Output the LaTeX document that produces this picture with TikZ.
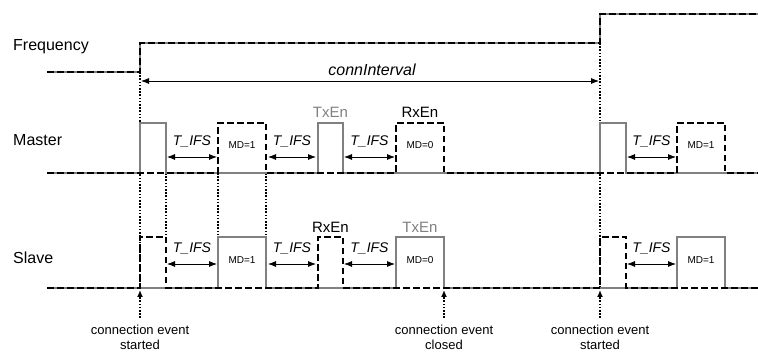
\documentclass[tikz,border=0pt]{standalone}
\usepackage{fontspec}
\setmainfont{Liberation Sans}
\usetikzlibrary{arrows.meta}
\definecolor{sig}{RGB}{128,128,128}
\begin{document}
\begin{tikzpicture}[x=1pt,y=-1pt,
  dsh/.style={line width=2.4pt, dash pattern=on 6.5pt off 3.5pt},
  grl/.style={sig, line width=2pt},
  dotl/.style={line width=1.6pt, dash pattern=on 1.6pt off 1.6pt},
  ifs/.style={line width=0.8pt, {Latex[length=8pt,width=6pt]}-{Latex[length=8pt,width=6pt]}},
  lbl/.style={font=\fontsize{16}{19}\selectfont, inner sep=0pt, anchor=west},
  ifst/.style={font=\fontsize{14}{16}\selectfont\itshape, inner sep=0pt},
  en/.style={font=\fontsize{15}{17}\selectfont, inner sep=0pt},
  md/.style={font=\fontsize{10}{12}\selectfont, inner sep=0pt},
  ev/.style={font=\fontsize{13}{15}\selectfont, inner sep=0pt, align=center},
  evarr/.style={line width=1.6pt, dash pattern=on 1.6pt off 1.6pt, -{Latex[length=7pt,width=6pt]}}
]
\useasboundingbox (0,0) rectangle (758,352);

% labels
\node[lbl] (freq) at (13,47) {Frequency};
\node[lbl] (mas) at (13,140) {Master};
\node[lbl] (sla) at (13,258) {Slave};

% dotted guides
\draw[dotl] (140,72) -- (140,288);
\draw[dotl] (600,43) -- (600,288);
\foreach \x in {166,218,266} \draw[dotl] (\x,173) -- (\x,237);

% frequency line
\draw[grl] (47,72) -- (140,72) -- (140,43) -- (600,43) -- (600,14) -- (758,14);
\draw[dsh] (47,72) -- (140,72) -- (140,43) -- (600,43) -- (600,14) -- (758,14);

% connInterval
\coordinate (ci1) at (141,81);
\coordinate (ci2) at (599,81);
\draw[line width=0.8pt, {Latex[length=8pt,width=6pt]}-{Latex[length=8pt,width=6pt]}] (ci1) -- (ci2);
\node[font=\fontsize{16}{19}\selectfont\itshape, inner sep=0pt] (cit) at (372,70) {connInterval};

% master waveforms
\draw[grl] (47,173) -- (140,173) -- (140,123) -- (166,123) -- (166,173) -- (318,173) -- (318,123) -- (343,123) -- (343,173)
  -- (600,173) -- (600,123) -- (626,123) -- (626,173) -- (758,173);
\draw[dsh] (47,173) -- (218,173) -- (218,123) -- (266,123) -- (266,173) -- (396,173) -- (396,123) -- (444,123) -- (444,173)
  -- (677,173) -- (677,123) -- (725,123) -- (725,173) -- (758,173);

% slave waveforms
\draw[grl] (47,288) -- (218,288) -- (218,237) -- (266,237) -- (266,288) -- (396,288) -- (396,237) -- (444,237) -- (444,288)
  -- (677,288) -- (677,237) -- (725,237) -- (725,288) -- (758,288);
\draw[dsh] (47,288) -- (140,288) -- (140,237) -- (166,237) -- (166,288) -- (318,288) -- (318,237) -- (343,237) -- (343,288)
  -- (600,288) -- (600,237) -- (626,237) -- (626,288) -- (758,288);

% T_IFS arrows
\foreach \a/\b [count=\i] in {167/217, 268/316, 344/395, 627/676} {
  \coordinate (ma\i) at (\a,157);
  \coordinate (mb\i) at (\b,157);
  \draw[ifs] (ma\i) -- (mb\i);
  \node[ifst] (mt\i) at ({(\a+\b)/2},141) {T\_IFS};
  \coordinate (sa\i) at (\a,264);
  \coordinate (sb\i) at (\b,264);
  \draw[ifs] (sa\i) -- (sb\i);
  \node[ifst] (st\i) at ({(\a+\b)/2},248) {T\_IFS};
}

% MD labels
\node[md] (md1) at (242,145) {MD=1};
\node[md] (md2) at (420,145) {MD=0};
\node[md] (md3) at (701,145) {MD=1};
\node[md] (md4) at (242,260) {MD=1};
\node[md] (md5) at (420,260) {MD=0};
\node[md] (md6) at (701,260) {MD=1};

% Tx/Rx enable labels
\node[en, text=sig] (tx1) at (330.5,112) {TxEn};
\node[en] (rx1) at (420,112) {RxEn};
\node[en] (rx2) at (330.5,227) {RxEn};
\node[en, text=sig] (tx2) at (420,227) {TxEn};

% connection event markers
\coordinate (e1a) at (140,318); \coordinate (e1b) at (140,290);
\coordinate (e2a) at (444,318); \coordinate (e2b) at (444,290);
\coordinate (e3a) at (600,318); \coordinate (e3b) at (600,290);
\draw[evarr] (e1a) -- (e1b);
\draw[evarr] (e2a) -- (e2b);
\draw[evarr] (e3a) -- (e3b);
\node[ev] (ev1) at (140,337.5) {connection event\\started};
\node[ev] (ev2) at (444,337.5) {connection event\\closed};
\node[ev] (ev3) at (600,337.5) {connection event\\started};
\end{tikzpicture}
\end{document}
